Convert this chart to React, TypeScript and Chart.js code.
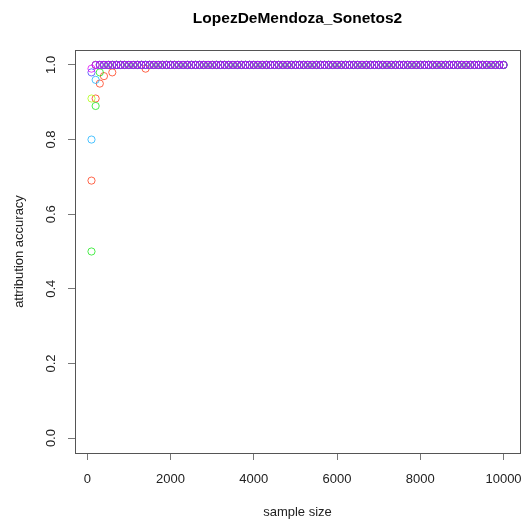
import React, { useEffect, useRef } from "react";
import { Chart, registerables } from "chart.js";

Chart.register(...registerables);

const chartTitle = "LopezDeMendoza_Sonetos2";
const xTitle = "sample size";
const yTitle = "attribution accuracy";

const xTicks = [0, 2000, 4000, 6000, 8000, 10000];
const yTicks = [0, 0.2, 0.4, 0.6, 0.8, 1.0];
const yTickLabels = ["0.0", "0.2", "0.4", "0.6", "0.8", "1.0"];

const sampleSizes = [
  100, 200, 300, 400, 500, 600, 700, 800, 900, 1000,
  1100, 1200, 1300, 1400, 1500, 1600, 1700, 1800, 1900, 2000,
  2100, 2200, 2300, 2400, 2500, 2600, 2700, 2800, 2900, 3000,
  3100, 3200, 3300, 3400, 3500, 3600, 3700, 3800, 3900, 4000,
  4100, 4200, 4300, 4400, 4500, 4600, 4700, 4800, 4900, 5000,
  5100, 5200, 5300, 5400, 5500, 5600, 5700, 5800, 5900, 6000,
  6100, 6200, 6300, 6400, 6500, 6600, 6700, 6800, 6900, 7000,
  7100, 7200, 7300, 7400, 7500, 7600, 7700, 7800, 7900, 8000,
  8100, 8200, 8300, 8400, 8500, 8600, 8700, 8800, 8900, 9000,
  9100, 9200, 9300, 9400, 9500, 9600, 9700, 9800, 9900, 10000,
];

const seriesRed = [
  0.69, 0.91, 0.95, 0.97, 1, 0.98, 1, 1, 1, 1, 1, 1, 1, 0.99, 1, 1, 1, 1, 1, 1,
  1, 1, 1, 1, 1, 1, 1, 1, 1, 1, 1, 1, 1, 1, 1, 1, 1, 1, 1, 1,
  1, 1, 1, 1, 1, 1, 1, 1, 1, 1, 1, 1, 1, 1, 1, 1, 1, 1, 1, 1,
  1, 1, 1, 1, 1, 1, 1, 1, 1, 1, 1, 1, 1, 1, 1, 1, 1, 1, 1, 1,
  1, 1, 1, 1, 1, 1, 1, 1, 1, 1, 1, 1, 1, 1, 1, 1, 1, 1, 1, 1,
];
const seriesYellow = [
  0.91, 1, 1, 1, 1, 1, 1, 1, 1, 1, 1, 1, 1, 1, 1, 1, 1, 1, 1, 1,
  1, 1, 1, 1, 1, 1, 1, 1, 1, 1, 1, 1, 1, 1, 1, 1, 1, 1, 1, 1,
  1, 1, 1, 1, 1, 1, 1, 1, 1, 1, 1, 1, 1, 1, 1, 1, 1, 1, 1, 1,
  1, 1, 1, 1, 1, 1, 1, 1, 1, 1, 1, 1, 1, 1, 1, 1, 1, 1, 1, 1,
  1, 1, 1, 1, 1, 1, 1, 1, 1, 1, 1, 1, 1, 1, 1, 1, 1, 1, 1, 1,
];
const seriesGreen = [
  0.5, 0.89, 0.98, 1, 1, 1, 1, 1, 1, 1, 1, 1, 1, 1, 1, 1, 1, 1, 1, 1,
  1, 1, 1, 1, 1, 1, 1, 1, 1, 1, 1, 1, 1, 1, 1, 1, 1, 1, 1, 1,
  1, 1, 1, 1, 1, 1, 1, 1, 1, 1, 1, 1, 1, 1, 1, 1, 1, 1, 1, 1,
  1, 1, 1, 1, 1, 1, 1, 1, 1, 1, 1, 1, 1, 1, 1, 1, 1, 1, 1, 1,
  1, 1, 1, 1, 1, 1, 1, 1, 1, 1, 1, 1, 1, 1, 1, 1, 1, 1, 1, 1,
];
const seriesCyan = [
  0.8, 0.96, 1, 1, 1, 1, 1, 1, 1, 1, 1, 1, 1, 1, 1, 1, 1, 1, 1, 1,
  1, 1, 1, 1, 1, 1, 1, 1, 1, 1, 1, 1, 1, 1, 1, 1, 1, 1, 1, 1,
  1, 1, 1, 1, 1, 1, 1, 1, 1, 1, 1, 1, 1, 1, 1, 1, 1, 1, 1, 1,
  1, 1, 1, 1, 1, 1, 1, 1, 1, 1, 1, 1, 1, 1, 1, 1, 1, 1, 1, 1,
  1, 1, 1, 1, 1, 1, 1, 1, 1, 1, 1, 1, 1, 1, 1, 1, 1, 1, 1, 1,
];
const seriesBlue = [
  0.98, 1, 1, 1, 1, 1, 1, 1, 1, 1, 1, 1, 1, 1, 1, 1, 1, 1, 1, 1,
  1, 1, 1, 1, 1, 1, 1, 1, 1, 1, 1, 1, 1, 1, 1, 1, 1, 1, 1, 1,
  1, 1, 1, 1, 1, 1, 1, 1, 1, 1, 1, 1, 1, 1, 1, 1, 1, 1, 1, 1,
  1, 1, 1, 1, 1, 1, 1, 1, 1, 1, 1, 1, 1, 1, 1, 1, 1, 1, 1, 1,
  1, 1, 1, 1, 1, 1, 1, 1, 1, 1, 1, 1, 1, 1, 1, 1, 1, 1, 1, 1,
];
const seriesMagenta = [
  0.99, 1, 1, 1, 1, 1, 1, 1, 1, 1, 1, 1, 1, 1, 1, 1, 1, 1, 1, 1,
  1, 1, 1, 1, 1, 1, 1, 1, 1, 1, 1, 1, 1, 1, 1, 1, 1, 1, 1, 1,
  1, 1, 1, 1, 1, 1, 1, 1, 1, 1, 1, 1, 1, 1, 1, 1, 1, 1, 1, 1,
  1, 1, 1, 1, 1, 1, 1, 1, 1, 1, 1, 1, 1, 1, 1, 1, 1, 1, 1, 1,
  1, 1, 1, 1, 1, 1, 1, 1, 1, 1, 1, 1, 1, 1, 1, 1, 1, 1, 1, 1,
];

const seriesList = [
  { values: seriesRed, color: "rgba(255,40,0,0.7)" },
  { values: seriesYellow, color: "rgba(170,255,0,0.75)" },
  { values: seriesGreen, color: "rgba(0,230,0,0.7)" },
  { values: seriesCyan, color: "rgba(0,170,255,0.7)" },
  { values: seriesBlue, color: "rgba(50,50,255,0.7)" },
  { values: seriesMagenta, color: "rgba(225,0,245,0.75)" },
];

const FONT = "'Liberation Sans', Arial, Helvetica, sans-serif";

export default function App() {
  const ref = useRef<HTMLCanvasElement | null>(null);

  useEffect(() => {
    if (!ref.current) return;

    const framePlugin = {
      id: "rframe",
      afterDraw(chart: any) {
        const { ctx, chartArea } = chart;
        const y = chart.scales.y;
        ctx.save();
        ctx.strokeStyle = "#555";
        ctx.lineWidth = 1;
        ctx.strokeRect(
          Math.round(chartArea.left) + 0.5,
          Math.round(chartArea.top) + 0.5,
          Math.round(chartArea.right - chartArea.left),
          Math.round(chartArea.bottom - chartArea.top)
        );
        ctx.fillStyle = "#222";
        ctx.font = `13px ${FONT}`;
        ctx.textAlign = "center";
        ctx.textBaseline = "middle";
        yTicks.forEach((v, i) => {
          const py = y.getPixelForValue(v);
          ctx.save();
          ctx.translate(51, py);
          ctx.rotate(-Math.PI / 2);
          ctx.fillText(yTickLabels[i], 0, 0);
          ctx.restore();
        });
        ctx.save();
        ctx.translate(19, (chartArea.top + chartArea.bottom) / 2);
        ctx.rotate(-Math.PI / 2);
        ctx.fillText(yTitle, 0, 0);
        ctx.restore();
        ctx.font = `bold 15.5px ${FONT}`;
        ctx.fillStyle = "#000";
        ctx.fillText(chartTitle, (chartArea.left + chartArea.right) / 2, 19);
        ctx.restore();
      },
    };

    const chart = new Chart(ref.current, {
      type: "scatter",
      data: {
        datasets: seriesList.map((s, k) => ({
          label: `s${k}`,
          data: sampleSizes.map((x, i) => ({ x, y: s.values[i] })),
          borderColor: s.color,
          backgroundColor: "rgba(0,0,0,0)",
          pointStyle: "circle",
          pointRadius: 3.6,
          pointBorderWidth: 1,
          showLine: false,
          order: seriesList.length - k,
        })),
      },
      options: {
        responsive: false,
        animation: false,
        events: [],
        layout: { padding: { left: 0, right: 12, top: 50, bottom: 0 } },
        plugins: {
          legend: { display: false },
          title: { display: false },
          tooltip: { enabled: false },
        },
        scales: {
          x: {
            type: "linear",
            min: -296,
            max: 10396,
            afterBuildTicks: (scale: any) => {
              scale.ticks = xTicks.map((v) => ({ value: v }));
            },
            afterFit: (scale: any) => {
              scale.height = 67;
              scale.paddingLeft = 0;
              scale.paddingRight = 0;
            },
            ticks: {
              color: "#222",
              font: { family: FONT, size: 13 },
              padding: 12,
              maxRotation: 0,
              autoSkip: false,
              callback: (v: any) => String(v),
            },
            grid: {
              drawOnChartArea: false,
              drawTicks: true,
              tickLength: 7,
              color: "#777",
            },
            border: { display: false },
            title: {
              display: true,
              text: xTitle,
              color: "#222",
              font: { family: FONT, size: 13 },
              padding: { top: 0, bottom: 0 },
            },
          },
          y: {
            type: "linear",
            min: -0.04,
            max: 1.04,
            afterBuildTicks: (scale: any) => {
              scale.ticks = yTicks.map((v) => ({ value: v }));
            },
            afterFit: (scale: any) => {
              scale.width = 75;
              scale.paddingTop = 0;
              scale.paddingBottom = 0;
            },
            ticks: {
              color: "rgba(0,0,0,0)",
              font: { family: FONT, size: 13 },
              padding: 4,
            },
            grid: {
              drawOnChartArea: false,
              drawTicks: true,
              tickLength: 7,
              color: "#777",
            },
            border: { display: false },
          },
        },
      },
      plugins: [framePlugin],
    });

    return () => chart.destroy();
  }, []);

  return (
    <div style={{ position: "absolute", left: 0, top: 0, width: 532, height: 520, background: "#fff" }}>
      <canvas ref={ref} width={532} height={520} />
    </div>
  );
}
